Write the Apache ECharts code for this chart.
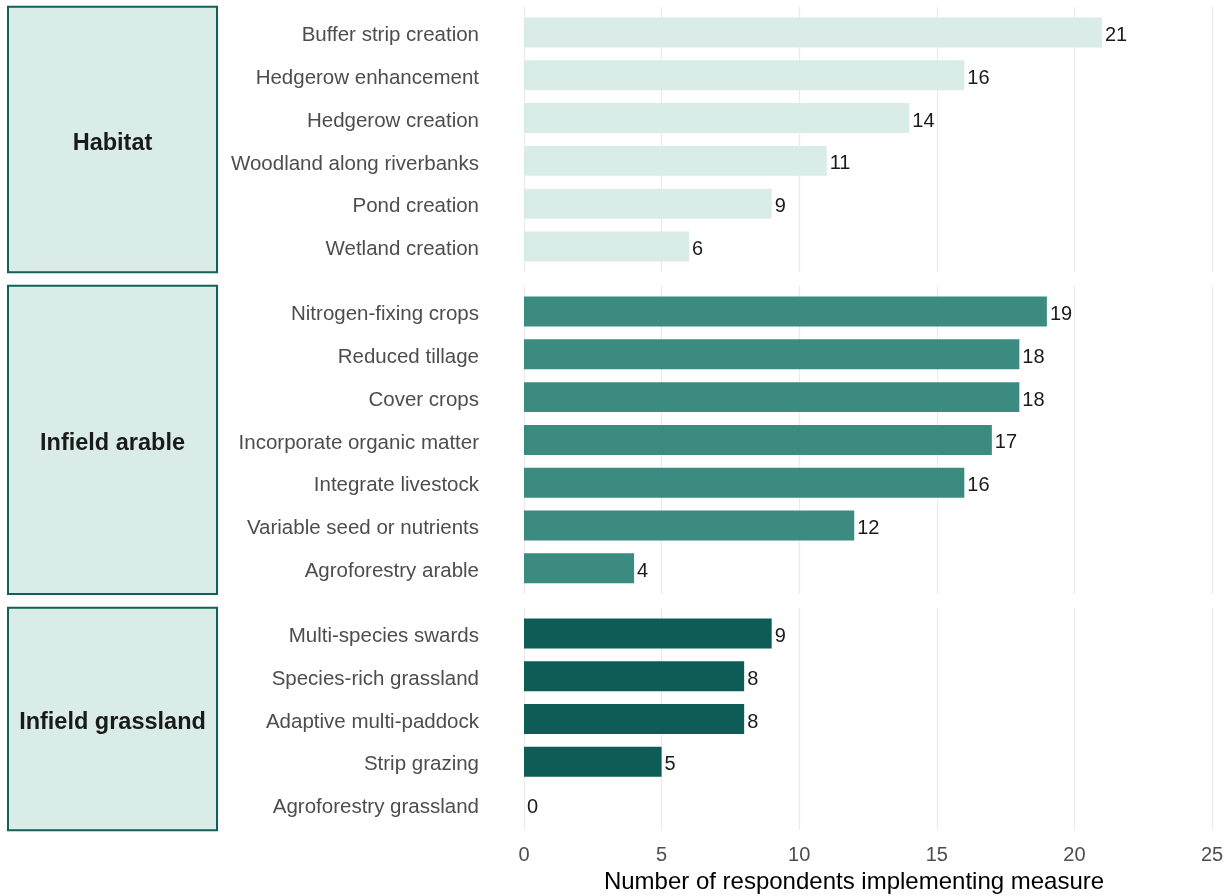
<!DOCTYPE html>
<html>
<head>
<meta charset="utf-8">
<title>Measures implemented by respondents</title>
<script src="https://cdn.jsdelivr.net/npm/echarts@6/dist/echarts.min.js"></script>
<style>
  html, body { margin: 0; padding: 0; background: #ffffff; }
  #chart { width: 1231px; height: 896px; }
</style>
</head>
<body>
<div id="chart"></div>
<script>
// Facet groups and their measures
const groupNames = ['Habitat', 'Infield arable', 'Infield grassland'];

const habitatMeasures = [
  'Buffer strip creation', 'Hedgerow enhancement', 'Hedgerow creation',
  'Woodland along riverbanks', 'Pond creation', 'Wetland creation'
];
const habitatCounts = [21, 16, 14, 11, 9, 6];

const arableMeasures = [
  'Nitrogen-fixing crops', 'Reduced tillage', 'Cover crops',
  'Incorporate organic matter', 'Integrate livestock',
  'Variable seed or nutrients', 'Agroforestry arable'
];
const arableCounts = [19, 18, 18, 17, 16, 12, 4];

const grasslandMeasures = [
  'Multi-species swards', 'Species-rich grassland', 'Adaptive multi-paddock',
  'Strip grazing', 'Agroforestry grassland'
];
const grasslandCounts = [9, 8, 8, 5, 0];

// Value axis range and tick step
const xMin = 0, xMax = 25, xStep = 5;
const xTitle = 'Number of respondents implementing measure';

// Layout (pixels)
const BAND = 42.8;          // height of one category row
const GAP = 13.7;           // vertical gap between facet panels
const PANEL_LEFT = 524;
const PANEL_WIDTH = 688;
const FIRST_TOP = 6.8;
const STRIP_LEFT = 8, STRIP_RIGHT = 217;

const panels = [
  { name: groupNames[0], cats: habitatMeasures, vals: habitatCounts, color: '#d9ece7' },
  { name: groupNames[1], cats: arableMeasures, vals: arableCounts, color: '#3b8b80' },
  { name: groupNames[2], cats: grasslandMeasures, vals: grasslandCounts, color: '#0d5c55' }
];

const FONT = '"Liberation Sans", Arial, Helvetica, sans-serif';
const grids = [], xAxes = [], yAxes = [], seriesList = [], graphics = [];

let panelTop = FIRST_TOP;
panels.forEach((p, i) => {
  const n = p.cats.length;
  const panelH = (n + 0.2) * BAND;     // panel with 0.6-row padding on both ends
  const isLast = i === panels.length - 1;

  // grid 2i: panel area with vertical grid lines
  grids.push({ left: PANEL_LEFT, width: PANEL_WIDTH, top: panelTop, height: panelH });
  // grid 2i+1: bars, one band per category
  grids.push({ left: PANEL_LEFT, width: PANEL_WIDTH, top: panelTop + 0.1 * BAND, height: n * BAND });

  xAxes.push({
    gridIndex: 2 * i, type: 'value', min: xMin, max: xMax, interval: xStep,
    axisLine: { show: false }, axisTick: { show: false },
    splitLine: { show: true, lineStyle: { color: '#ebebeb', width: 1.2 } },
    axisLabel: { show: isLast, margin: 15, fontSize: 20, color: '#4d4d4d', fontFamily: FONT }
  });
  xAxes.push({
    gridIndex: 2 * i + 1, type: 'value', min: xMin, max: xMax, interval: xStep, show: false
  });

  yAxes.push({ gridIndex: 2 * i, type: 'value', show: false, min: 0, max: 1 });
  yAxes.push({
    gridIndex: 2 * i + 1, type: 'category', inverse: true, data: p.cats,
    axisLine: { show: false }, axisTick: { show: false }, splitLine: { show: false },
    axisLabel: {
      interval: 0, margin: 45,
      formatter: (v) => '{m|' + v + '}',
      rich: {
        m: { fontSize: 20.5, color: '#4d4d4d', fontFamily: FONT, padding: [6, 0, 0, 0] }
      }
    }
  });

  seriesList.push({
    type: 'bar', name: p.name,
    xAxisIndex: 2 * i + 1, yAxisIndex: 2 * i + 1,
    data: p.vals, barWidth: 0.7 * BAND,
    itemStyle: { color: p.color },
    label: {
      show: true, position: 'right', distance: 3, offset: [0, 3],
      fontSize: 20, color: '#1a1a1a', fontFamily: FONT
    }
  });

  // facet strip on the left
  graphics.push({
    type: 'rect', silent: true,
    shape: { x: STRIP_LEFT, y: panelTop, width: STRIP_RIGHT - STRIP_LEFT, height: panelH },
    style: { fill: '#d9ece7', stroke: '#11605a', lineWidth: 2 }
  });
  graphics.push({
    type: 'text', silent: true,
    x: (STRIP_LEFT + STRIP_RIGHT) / 2, y: panelTop + panelH / 2 + 4,
    style: {
      text: p.name, fill: '#1a1a1a', fontSize: 23.5, fontWeight: 'bold', fontFamily: FONT,
      align: 'center', verticalAlign: 'middle'
    }
  });

  panelTop += panelH + GAP;
});

// x-axis title
graphics.push({
  type: 'text', silent: true, x: 854, y: 882,
  style: {
    text: xTitle, fill: '#000000', fontSize: 24, fontFamily: FONT,
    align: 'center', verticalAlign: 'middle'
  }
});

const chart = echarts.init(document.getElementById('chart'), null, { renderer: 'canvas' });
chart.setOption({
  animation: false,
  backgroundColor: '#ffffff',
  textStyle: { fontFamily: FONT },
  grid: grids,
  xAxis: xAxes,
  yAxis: yAxes,
  series: seriesList,
  graphic: graphics
});
</script>
</body>
</html>
